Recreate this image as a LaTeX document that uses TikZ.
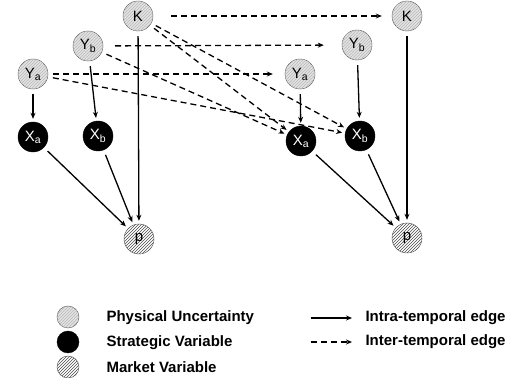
\documentclass[tikz,border=0pt]{standalone}
\usepackage{fontspec}
\setmainfont{Liberation Sans}
\usetikzlibrary{arrows.meta, patterns}
\tikzset{
    phys/.style={shape=circle, draw=gray!60!black, fill=gray!22,
        postaction={pattern=north east lines, pattern color=gray!55},
        minimum size=30pt, inner sep=0pt, font=\fontsize{15}{17}\selectfont},
    strat/.style={shape=circle, draw=black, fill=black, text=white,
        minimum size=30pt, inner sep=0pt, font=\fontsize{15}{17}\selectfont},
    mkt/.style={shape=circle, draw=gray!60!black, fill=white,
        postaction={pattern=north east lines, pattern color=gray!60!black},
        minimum size=30pt, inner sep=0pt, font=\fontsize{15}{17}\selectfont},
    intra/.style={-{Stealth[length=6pt, width=5pt]}, line width=1.3pt,
        shorten >=3pt, shorten <=5pt},
    inter/.style={intra, dash pattern=on 6pt off 4pt},
    legtext/.style={anchor=west, font=\bfseries\fontsize{15}{17}\selectfont}
}

\begin{document}
\begin{tikzpicture}[x=1pt, y=1pt]
    \useasboundingbox (0,0) rectangle (531,378);

    % period t
    \node[phys] (K) at (138,362) {K};
    \node[phys] (Yb) at (88,332) {Y\textsubscript{b}};
    \node[phys] (Ya) at (33,304) {Y\textsubscript{a}};
    \node[strat] (Xa) at (33,241) {X\textsubscript{a}};
    \node[strat] (Xb) at (98,242) {X\textsubscript{b}};
    \node[mkt] (p) at (139,139) {p};

    % period t+1
    \node[phys] (K2) at (407,362) {K};
    \node[phys] (Yb2) at (357,333) {Y\textsubscript{b}};
    \node[phys] (Ya2) at (300,304) {Y\textsubscript{a}};
    \node[strat] (Xa2) at (301,237) {X\textsubscript{a}};
    \node[strat] (Xb2) at (360,242) {X\textsubscript{b}};
    \node[mkt] (p2) at (407,140) {p};

    % intra-temporal edges
    \draw[intra] (Ya) -- (Xa);
    \draw[intra] (Yb) -- (Xb);
    \draw[intra] (K) -- (p);
    \draw[intra] (Xa) -- (p);
    \draw[intra] (Xb) -- (p);
    \draw[intra] (Ya2) -- (Xa2);
    \draw[intra] (Yb2) -- (Xb2);
    \draw[intra] (K2) -- (p2);
    \draw[intra] (Xa2) -- (p2);
    \draw[intra] (Xb2) -- (p2);

    % inter-temporal edges
    \draw[inter, shorten <=18pt, shorten >=10pt] (K) -- (K2);
    \draw[inter, shorten <=12pt, shorten >=18pt] (Yb) -- (Yb2);
    \draw[inter, shorten >=12pt] (Ya) -- (Ya2);
    \draw[inter] (K) -- (Xa2);
    \draw[inter] (K) -- (Xb2);
    \draw[inter] (Yb) -- (Xa2);
    \draw[inter] (Ya) -- (Xb2);

    % legend
    \node[phys, minimum size=22pt] (lgPhys) at (68,61) {};
    \node[strat, minimum size=22pt] (lgStrat) at (68,36) {};
    \node[mkt, minimum size=22pt] (lgMkt) at (68,11) {};
    \node[legtext] (tPhys) at (103,60) {Physical Uncertainty};
    \node[legtext] (tStrat) at (103,35) {Strategic Variable};
    \node[legtext] (tMkt) at (103,11) {Market Variable};

    \coordinate (intraA) at (311,60);
    \coordinate (intraB) at (352,60);
    \coordinate (interA) at (311,36);
    \coordinate (interB) at (352,36);
    \draw[intra, shorten <=0pt, shorten >=0pt] (intraA) -- (intraB);
    \draw[inter, shorten <=0pt, shorten >=0pt] (interA) -- (interB);
    \node[legtext] (tIntra) at (362,60) {Intra-temporal edge};
    \node[legtext] (tInter) at (362,36) {Inter-temporal edge};

\end{tikzpicture}
\end{document}
